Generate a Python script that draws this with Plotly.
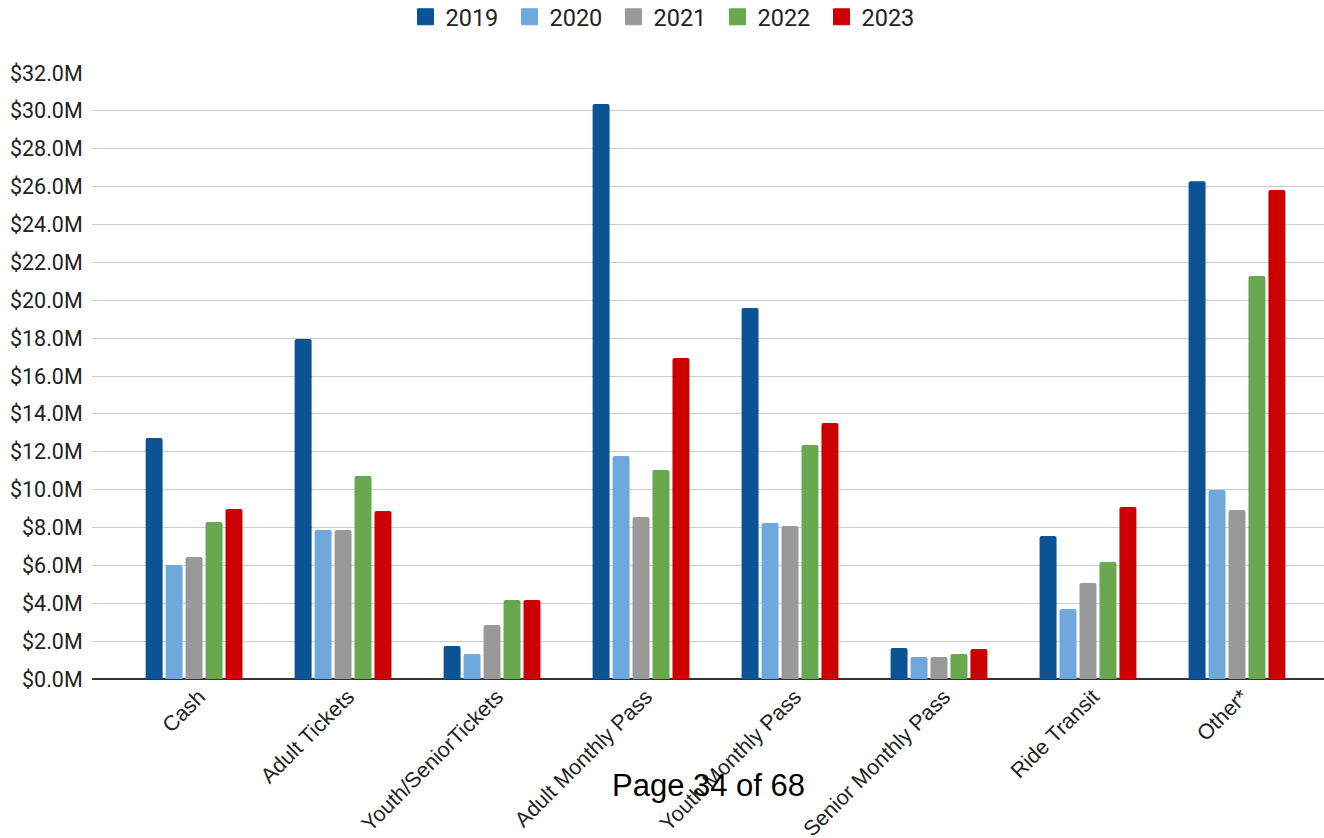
import plotly.graph_objects as go

categories = ["Cash", "Adult Tickets", "Youth/SeniorTickets", "Adult Monthly Pass",
              "Youth Monthly Pass", "Senior Monthly Pass", "Ride Transit", "Other*"]
years = ["2019", "2020", "2021", "2022", "2023"]
v2019 = [12.72, 17.95, 1.74, 30.36, 19.59, 1.64, 7.55, 26.29]
v2020 = [6.02, 7.87, 1.32, 11.77, 8.24, 1.16, 3.70, 9.98]
v2021 = [6.44, 7.87, 2.85, 8.55, 8.08, 1.16, 5.07, 8.92]
v2022 = [8.29, 10.72, 4.17, 11.03, 12.35, 1.32, 6.18, 21.28]
v2023 = [8.98, 8.87, 4.17, 16.95, 13.52, 1.58, 9.08, 25.82]
series = [v2019, v2020, v2021, v2022, v2023]
colors = ["#0b5394", "#6fa8dc", "#999999", "#6aa84f", "#cc0000"]
y_ticks = [0, 2, 4, 6, 8, 10, 12, 14, 16, 18, 20, 22, 24, 26, 28, 30, 32]
y_labels = ["$%.1fM" % v for v in y_ticks]

fig = go.Figure()
for name, vals, col in zip(years, series, colors):
    fig.add_trace(go.Bar(x=categories, y=vals, name=name, showlegend=False, legendgroup=name,
                         marker=dict(color=col, line=dict(width=0), cornerradius=2)))
# legend-only entries with larger square swatches (no data points)
for name, col in zip(years, colors):
    fig.add_trace(go.Scatter(x=[categories[0]], y=[None], name=name, mode="markers",
                             legendgroup=name, showlegend=True,
                             marker=dict(symbol="square", size=16, color=col,
                                         line=dict(width=1, color=col))))

fig.update_layout(
    width=1324, height=838,
    margin=dict(l=92, r=0, t=73, b=159),
    paper_bgcolor="white", plot_bgcolor="white",
    barmode="group", bargap=0.33, bargroupgap=0.15,
    font=dict(family="Roboto, Arial, sans-serif", color="#222222", size=18),
    legend=dict(orientation="h", x=0.4655, xanchor="center", y=1 - 17 / 838, yanchor="middle",
                yref="container", font=dict(size=23.5, color="#222222"),
                traceorder="normal", itemsizing="trace", entrywidth=59),
    showlegend=True,
    xaxis=dict(type="category", range=[-0.685, 7.584], tickangle=-45, automargin=False,
               tickfont=dict(size=21.5, family="Liberation Sans, Arial, sans-serif", color="#222222"),
               showgrid=False, showline=False, ticks="", ticklabelshift=5),
    yaxis=dict(range=[0, 32], tickmode="array", tickvals=y_ticks, ticktext=y_labels,
               automargin=False,
               tickfont=dict(size=21.5, family="Roboto, Arial, sans-serif", color="#222222"),
               gridcolor="#cccccc", gridwidth=1,
               zeroline=True, zerolinecolor="#333333", zerolinewidth=1.5,
               showline=False, ticks="outside", ticklen=4, tickcolor="rgba(0,0,0,0)"),
)
fig.add_annotation(text="Page 34 of 68", xref="paper", yref="paper",
                   x=(708 - 92) / 1232, y=-(805 - 679) / 606, showarrow=False,
                   font=dict(size=31, family="Liberation Sans Narrow, Arial Narrow, Liberation Sans, Arial",
                             color="#000000"))

fig.write_html("out.html")
